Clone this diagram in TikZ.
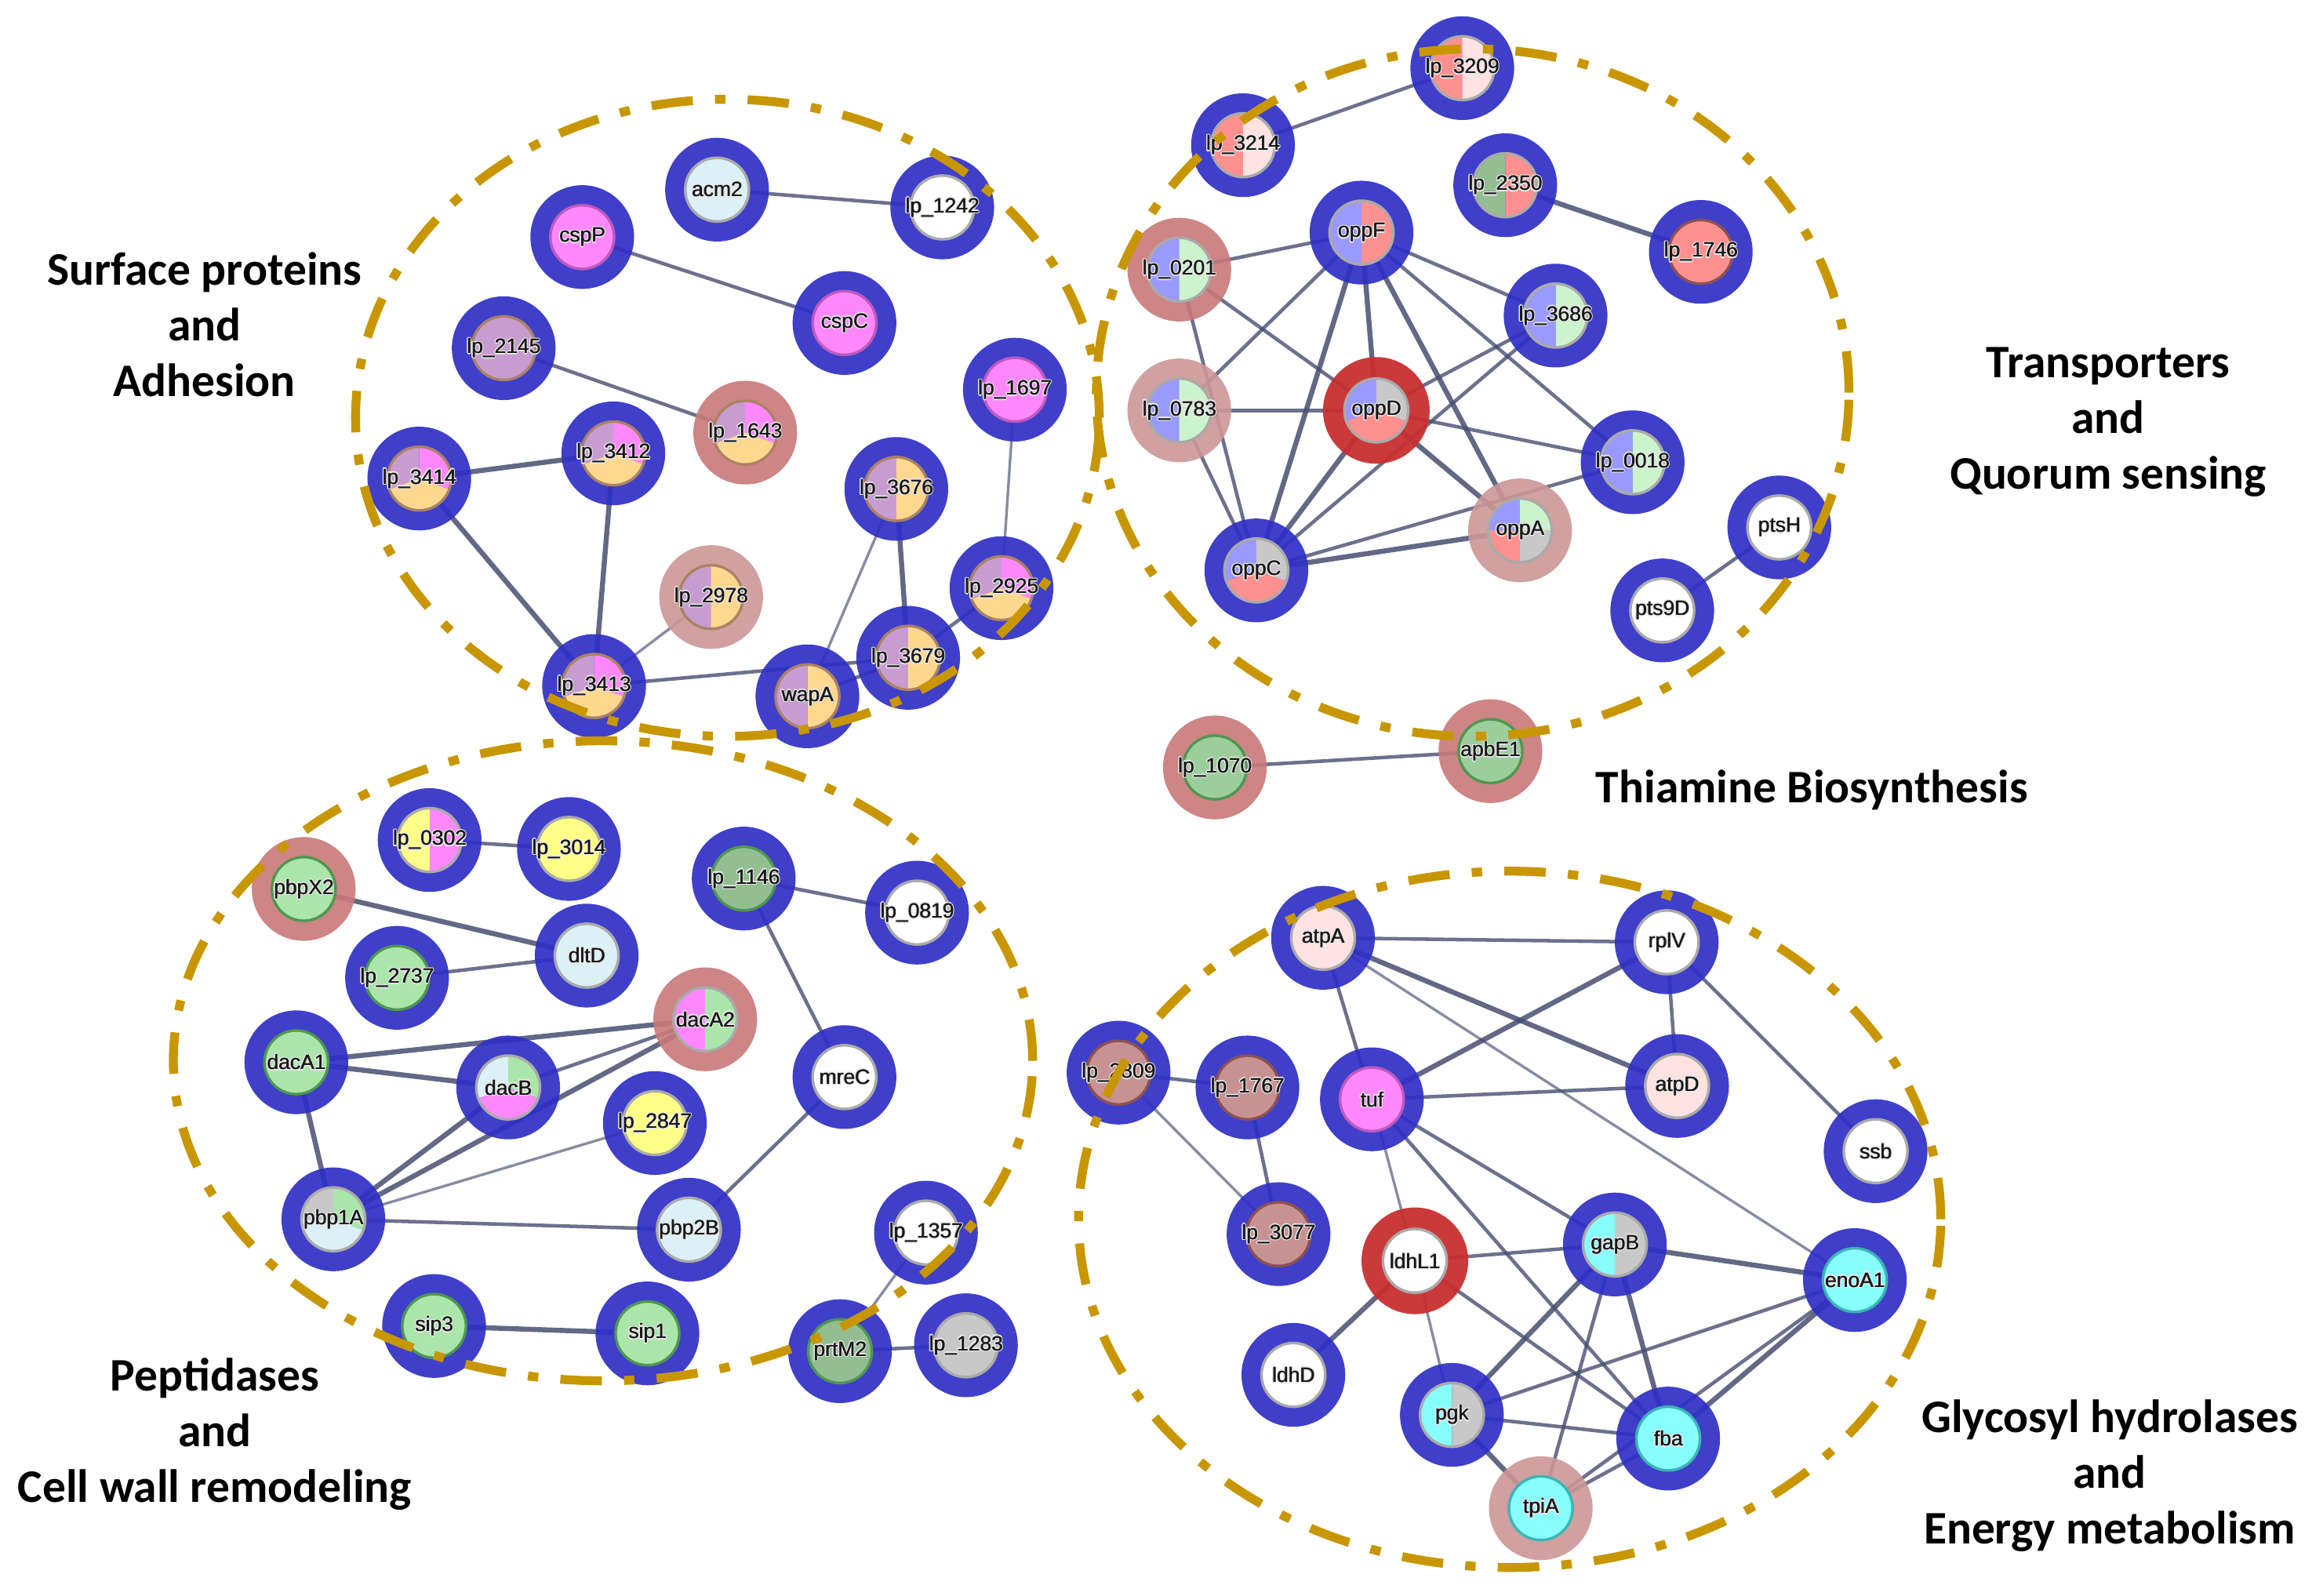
\documentclass[tikz,border=0pt]{standalone}
\usepackage{fontspec}
\setmainfont{Liberation Sans}
\newfontfamily\grpfamily{Carlito}
\pgfdeclarelayer{background}
\pgfdeclarelayer{foreground}
\pgfsetlayers{background,main,foreground}
\definecolor{ringblue}{RGB}{48,48,198}
\definecolor{ringpink}{RGB}{200,120,120}
\definecolor{ringlight}{RGB}{204,150,150}
\definecolor{ringred}{RGB}{200,46,46}
\definecolor{cpink}{RGB}{255,136,255}
\definecolor{cmauve}{RGB}{200,156,208}
\definecolor{cpeach}{RGB}{255,216,144}
\definecolor{clav}{RGB}{153,153,255}
\definecolor{csalmon}{RGB}{255,144,144}
\definecolor{clpink}{RGB}{255,226,226}
\definecolor{clgreen}{RGB}{204,244,204}
\definecolor{cgreen}{RGB}{170,230,170}
\definecolor{cdgreen}{RGB}{146,190,146}
\definecolor{ctgreen}{RGB}{156,206,156}
\definecolor{cyellow}{RGB}{255,255,136}
\definecolor{clblue}{RGB}{220,240,248}
\definecolor{cgrey}{RGB}{200,200,200}
\definecolor{ccyan}{RGB}{136,255,255}
\definecolor{crosy}{RGB}{200,146,146}
\definecolor{bpink}{RGB}{190,90,190}
\definecolor{bmix}{RGB}{170,130,100}
\definecolor{bgreen}{RGB}{80,150,80}
\definecolor{bcyan}{RGB}{60,180,180}
\definecolor{brosy}{RGB}{140,82,82}
\definecolor{bgrey}{RGB}{170,170,170}
\definecolor{dashgold}{RGB}{200,150,0}
\definecolor{edgec}{RGB}{70,78,112}
\definecolor{halocol}{RGB}{232,232,232}
\definecolor{labcol}{RGB}{25,25,25}
\newcommand\hcp[4]{\rlap{\kern#1\raise#2\hbox{\textcolor{#3}{#4}}}}
\newcommand\halo[1]{%
  \hcp{0.8pt}{0pt}{halocol}{#1}\hcp{-0.8pt}{0pt}{halocol}{#1}\hcp{0pt}{0.8pt}{halocol}{#1}\hcp{0pt}{-0.8pt}{halocol}{#1}%
  \hcp{0.6pt}{0.6pt}{halocol}{#1}\hcp{-0.6pt}{0.6pt}{halocol}{#1}\hcp{0.6pt}{-0.6pt}{halocol}{#1}\hcp{-0.6pt}{-0.6pt}{halocol}{#1}%
  \hcp{0.3pt}{0pt}{labcol}{#1}\textcolor{labcol}{#1}}
\tikzset{
  ringB/.style={circle, minimum size=70pt, inner sep=0pt, fill=ringblue, fill opacity=0.93},
  ringP/.style={circle, minimum size=70pt, inner sep=0pt, fill=ringpink, fill opacity=0.9},
  ringL/.style={circle, minimum size=70pt, inner sep=0pt, fill=ringlight, fill opacity=0.9},
  ringR/.style={circle, minimum size=72pt, inner sep=0pt, fill=ringred, fill opacity=0.94},
  lab/.style={font=\fontsize{14}{16}\selectfont, inner sep=0pt},
  edge/.style={draw=edgec, line width=2.4pt, draw opacity=0.8},
  thk/.style={draw=edgec, line width=3.4pt, draw opacity=0.85},
  thn/.style={draw=edgec, line width=1.8pt, draw opacity=0.65},
  grp/.style={font=\grpfamily\bfseries\fontsize{31.5}{37.5}\selectfont, align=center, text=black, inner sep=0pt},
  gold/.style={draw=dashgold, line width=6pt, dash pattern=on 28pt off 15pt on 7pt off 15pt}
}
% #1 ring style, #2 name, #3 position, #4 pie list, #5 border colour, #6 label
\newcommand\gnode[6]{%
  \node[#1] (#2) at (#3) {};
  \foreach \a/\b/\c in {#4} {\fill[\c] (#2.center) -- ++(\a:22pt) arc[start angle=\a, end angle=\b, radius=22pt] -- cycle;}
  \draw[#5, line width=1.8pt] (#2.center) circle[radius=21.5pt];
  \node[lab] at (#2.center) {\halo{#6}};
}
\begin{document}
\begin{tikzpicture}[x=1pt,y=-1pt]
\useasboundingbox (0,0) rectangle (1568,1077);
% ---------- Surface proteins and Adhesion
\gnode{ringB}{acm2}{484,128}{0/360/clblue}{bgrey}{acm2}
\gnode{ringB}{lp1242}{636,140}{0/360/white}{bgrey}{lp\_1242}
\gnode{ringB}{cspP}{393,160}{0/360/cpink}{bpink}{cspP}
\gnode{ringB}{cspC}{570,218}{0/360/cpink}{bpink}{cspC}
\gnode{ringB}{lp2145}{340,235}{0/360/cmauve}{bmix}{lp\_2145}
\gnode{ringP}{lp1643}{503,292}{90/200/cmauve,-20/90/cpink,200/340/cpeach}{bmix}{lp\_1643}
\gnode{ringB}{lp1697}{685,263}{0/360/cpink}{bpink}{lp\_1697}
\gnode{ringB}{lp3414}{283,323}{90/200/cmauve,-20/90/cpink,200/340/cpeach}{bmix}{lp\_3414}
\gnode{ringB}{lp3412}{414,306}{90/200/cmauve,-20/90/cpink,200/340/cpeach}{bmix}{lp\_3412}
\gnode{ringB}{lp3676}{605,330}{90/270/cmauve,-90/90/cpeach}{bmix}{lp\_3676}
\gnode{ringL}{lp2978}{480,403}{90/270/cmauve,-90/90/cpeach}{bmix}{lp\_2978}
\gnode{ringB}{lp2925}{676,397}{90/200/cmauve,-20/90/cpink,200/340/cpeach}{bmix}{lp\_2925}
\gnode{ringB}{lp3413}{401,463}{90/200/cmauve,-20/90/cpink,200/340/cpeach}{bmix}{lp\_3413}
\gnode{ringB}{wapA}{545,470}{90/270/cmauve,-90/90/cpeach}{bmix}{wapA}
\gnode{ringB}{lp3679}{613,444}{90/270/cmauve,-90/90/cpeach}{bmix}{lp\_3679}
% ---------- Transporters and Quorum sensing
\gnode{ringB}{lp3209}{987,46}{90/270/csalmon,-90/90/clpink}{bgrey}{lp\_3209}
\gnode{ringB}{lp3214}{839,98}{90/270/csalmon,-90/90/clpink}{bgrey}{lp\_3214}
\gnode{ringB}{lp2350}{1016,125}{90/270/cdgreen,-90/90/csalmon}{bgrey}{lp\_2350}
\gnode{ringB}{lp1746}{1148,170}{0/360/csalmon}{brosy}{lp\_1746}
\gnode{ringB}{oppF}{919,157}{90/270/clav,-90/90/csalmon}{bgrey}{oppF}
\gnode{ringP}{lp0201}{796,182}{90/270/clav,-90/90/clgreen}{bgrey}{lp\_0201}
\gnode{ringB}{lp3686}{1050,213}{90/270/clav,-90/90/clgreen}{bgrey}{lp\_3686}
\gnode{ringL}{lp0783}{796,277}{90/270/clav,-90/90/clgreen}{bgrey}{lp\_0783}
\gnode{ringR}{oppD}{929,277}{90/200/clav,-20/90/cgrey,200/340/csalmon}{bgrey}{oppD}
\gnode{ringB}{lp0018}{1102,312}{90/270/clav,-90/90/clgreen}{bgrey}{lp\_0018}
\gnode{ringL}{oppA}{1026,358}{90/180/clav,0/90/clgreen,270/360/cgrey,180/270/csalmon}{bgrey}{oppA}
\gnode{ringB}{oppC}{848,385}{90/200/clav,-20/90/cgrey,200/340/csalmon}{bgrey}{oppC}
\gnode{ringB}{ptsH}{1201,356}{0/360/white}{bgrey}{ptsH}
\gnode{ringB}{pts9D}{1122,412}{0/360/white}{bgrey}{pts9D}
% ---------- Thiamine
\gnode{ringP}{lp1070}{820,518}{0/360/ctgreen}{bgreen}{lp\_1070}
\gnode{ringP}{apbE1}{1006,507}{0/360/ctgreen}{bgreen}{apbE1}
% ---------- Peptidases and Cell wall remodeling
\gnode{ringB}{lp0302}{290,567}{90/270/cyellow,-90/90/cpink}{bgrey}{lp\_0302}
\gnode{ringB}{lp3014}{384,573}{0/360/cyellow}{bgrey}{lp\_3014}
\gnode{ringP}{pbpX2}{205,600}{0/360/cgreen}{bgreen}{pbpX2}
\gnode{ringB}{lp1146}{502,593}{0/360/cdgreen}{bgreen}{lp\_1146}
\gnode{ringB}{lp0819}{619,616}{0/360/white}{bgrey}{lp\_0819}
\gnode{ringB}{dltD}{396,645}{0/360/clblue}{bgrey}{dltD}
\gnode{ringB}{lp2737}{268,660}{0/360/cgreen}{bgreen}{lp\_2737}
\gnode{ringP}{dacA2}{476,688}{90/270/cpink,-90/90/cgreen}{bgrey}{dacA2}
\gnode{ringB}{dacA1}{200,717}{0/360/cgreen}{bgreen}{dacA1}
\gnode{ringB}{dacB}{343,734}{90/200/clblue,-20/90/cgreen,200/340/cpink}{bgrey}{dacB}
\gnode{ringB}{mreC}{570,727}{0/360/white}{bgrey}{mreC}
\gnode{ringB}{lp2847}{442,758}{0/360/cyellow}{bgrey}{lp\_2847}
\gnode{ringB}{pbp1A}{225,823}{90/180/cgrey,-20/90/cgreen,180/340/clblue}{bgrey}{pbp1A}
\gnode{ringB}{pbp2B}{465,830}{0/360/clblue}{bgrey}{pbp2B}
\gnode{ringB}{lp1357}{625,832}{0/360/white}{bgrey}{lp\_1357}
\gnode{ringB}{sip3}{293,895}{0/360/cgreen}{bgreen}{sip3}
\gnode{ringB}{sip1}{437,900}{0/360/cgreen}{bgreen}{sip1}
\gnode{ringB}{prtM2}{567,912}{0/360/cdgreen}{bgreen}{prtM2}
\gnode{ringB}{lp1283}{652,908}{0/360/cgrey}{bgrey}{lp\_1283}
% ---------- Glycosyl hydrolases and Energy metabolism
\gnode{ringB}{atpA}{893,633}{0/360/clpink}{bgrey}{atpA}
\gnode{ringB}{rplV}{1125,636}{0/360/white}{bgrey}{rplV}
\gnode{ringB}{lp2809}{755,724}{0/360/crosy}{brosy}{lp\_2809}
\gnode{ringB}{lp1767}{842,734}{0/360/crosy}{brosy}{lp\_1767}
\gnode{ringB}{tuf}{926,742}{0/360/cpink}{bpink}{tuf}
\gnode{ringB}{atpD}{1132,733}{0/360/clpink}{bgrey}{atpD}
\gnode{ringB}{ssb}{1266,777}{0/360/white}{bgrey}{ssb}
\gnode{ringB}{lp3077}{863,833}{0/360/crosy}{brosy}{lp\_3077}
\gnode{ringR}{ldhL1}{955,851}{0/360/white}{bgrey}{ldhL1}
\gnode{ringB}{gapB}{1090,840}{90/270/ccyan,-90/90/cgrey}{bgrey}{gapB}
\gnode{ringB}{enoA1}{1252,864}{0/360/ccyan}{bcyan}{enoA1}
\gnode{ringB}{ldhD}{873,928}{0/360/white}{bgrey}{ldhD}
\gnode{ringB}{pgk}{980,955}{90/270/ccyan,-90/90/cgrey}{bgrey}{pgk}
\gnode{ringB}{fba}{1126,971}{0/360/ccyan}{bcyan}{fba}
\gnode{ringL}{tpiA}{1040,1018}{0/360/ccyan}{bcyan}{tpiA}
% ---------- edges
\begin{pgfonlayer}{background}
\foreach \u/\v/\s in {acm2/lp1242/edge, cspP/cspC/edge, lp2145/lp1643/edge, lp3414/lp3412/thk,
  lp3414/lp3413/thk, lp3412/lp3413/thk, lp2978/lp3413/thn, lp3413/lp3679/edge, wapA/lp3676/thn,
  lp3676/lp3679/thk, wapA/lp3679/edge, lp3679/lp2925/edge, lp1697/lp2925/thn,
  lp3209/lp3214/edge, lp2350/lp1746/thk, oppF/lp0201/edge, oppF/lp3686/edge, oppF/lp0018/edge,
  oppF/oppA/thk, oppF/oppD/thk, oppF/oppC/thk, oppF/lp0783/edge, lp0201/oppD/edge, lp0201/oppC/edge,
  lp0783/oppD/edge, lp0783/oppC/edge, oppD/lp3686/edge, oppD/lp0018/edge, oppD/oppA/thk,
  oppD/oppC/thk, oppC/lp3686/edge, oppC/lp0018/edge, oppC/oppA/thk, ptsH/pts9D/edge, lp1070/apbE1/edge,
  lp0302/lp3014/edge, pbpX2/dltD/thk, lp2737/dltD/edge, lp1146/lp0819/edge, lp1146/mreC/edge,
  dacA1/dacA2/thk, dacA1/dacB/thk, dacA1/pbp1A/thk, dacB/dacA2/edge, pbp1A/dacB/thk, pbp1A/dacA2/thk,
  pbp1A/lp2847/thn, pbp1A/pbp2B/edge, mreC/pbp2B/edge, sip3/sip1/thk, lp1357/prtM2/thn, prtM2/lp1283/edge,
  atpA/rplV/edge, atpA/tuf/edge, atpA/atpD/thk, atpA/enoA1/thn, rplV/tuf/thk, rplV/atpD/edge, rplV/ssb/edge,
  tuf/atpD/edge, tuf/ldhL1/thn, tuf/gapB/edge, tuf/fba/edge, lp2809/lp1767/edge, lp2809/lp3077/thn,
  lp1767/lp3077/edge, ldhL1/gapB/edge, ldhL1/ldhD/thk, ldhL1/pgk/thn, ldhL1/fba/edge, gapB/enoA1/thk,
  gapB/pgk/thk, gapB/fba/thk, gapB/tpiA/edge, pgk/enoA1/edge, pgk/fba/edge, pgk/tpiA/thk, fba/enoA1/thk,
  tpiA/enoA1/edge, tpiA/fba/edge}
  {\draw[\s] (\u.center) -- (\v.center);}
\end{pgfonlayer}
% ---------- group outlines
\begin{pgfonlayer}{foreground}
\draw[gold] (491,282) ellipse[x radius=251pt, y radius=215pt];
\draw[gold] (994,265) ellipse[x radius=254pt, y radius=232pt];
\draw[gold] (407,716) ellipse[x radius=290pt, y radius=216pt];
\draw[gold] (1019,823) ellipse[x radius=291pt, y radius=235pt];
\end{pgfonlayer}
% ---------- group labels
\node[grp] (gSurf) at (138,219) {Surface proteins\\and\\Adhesion};
\node[grp] (gTrans) at (1423,285) {Transporters\\and\\Quorum sensing};
\node[grp] (gThia) at (1223,533) {Thiamine\ Biosynthesis};
\node[grp] (gPept) at (145,968) {Peptidases\\and\\Cell wall remodeling};
\node[grp] (gGlyc) at (1424,996) {Glycosyl hydrolases\\and\\Energy metabolism};
\end{tikzpicture}
\end{document}
